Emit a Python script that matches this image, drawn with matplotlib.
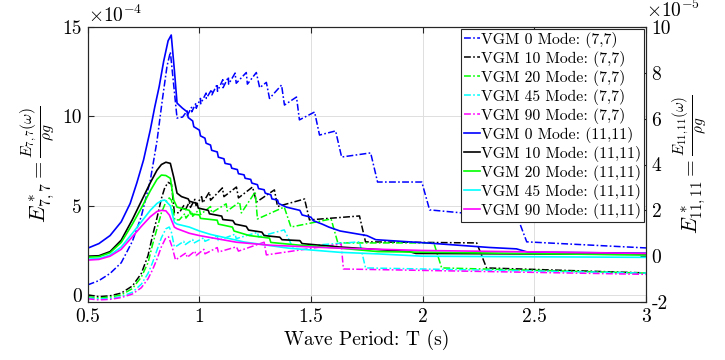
import matplotlib
matplotlib.use('Agg')
import matplotlib.pyplot as plt

plt.rcParams['font.family'] = 'serif'
plt.rcParams['font.serif'] = ['cmr10']
plt.rcParams['mathtext.fontset'] = 'cm'
plt.rcParams['axes.unicode_minus'] = False

# mode (7,7), left axis, units of 1e-4
t77_0 = [0.50, 0.55, 0.60, 0.65, 0.70, 0.74, 0.78, 0.81, 0.835, 0.855, 0.87, 0.90, 0.925, 0.945, 0.946, 0.965,
         0.966, 0.985, 0.986, 1.005, 1.006, 1.03, 1.031, 1.055, 1.056, 1.08, 1.081, 1.105, 1.106, 1.13, 1.131,
         1.16, 1.165, 1.21, 1.215, 1.255, 1.27, 1.30, 1.314, 1.368, 1.381, 1.435, 1.448, 1.516, 1.538, 1.61,
         1.637, 1.767, 1.798, 1.996, 2.031, 2.426, 2.466, 3.0]
e77_0 = [0.56, 0.8, 1.2, 1.8, 3.0, 4.4, 6.4, 8.6, 11.0, 12.8, 13.6, 9.9, 9.96, 10.3, 10.05, 10.5,
         10.25, 10.75, 10.45, 11.0, 10.7, 11.3, 11.0, 11.5, 11.2, 11.8, 11.4, 12.05, 11.6, 12.2, 11.8,
         12.42, 11.85, 12.45, 11.8, 12.45, 11.6, 11.9, 11.0, 11.75, 10.63, 11.08, 9.8, 10.24, 8.95, 9.18,
         7.72, 7.95, 6.32, 6.32, 4.76, 4.3, 2.97, 2.63]

t77_10 = [0.50, 0.55, 0.60, 0.65, 0.70, 0.74, 0.77, 0.79, 0.81, 0.83, 0.845, 0.86, 0.875, 0.888, 0.91, 0.93,
          0.935, 0.955, 0.96, 0.98, 0.985, 1.01, 1.015, 1.045, 1.05, 1.103, 1.11, 1.166, 1.175, 1.238, 1.256,
          1.336, 1.35, 1.471, 1.493, 1.717, 1.744, 2.242, 2.286, 3.0]
e77_10 = [0.0, -0.1, -0.05, 0.1, 0.5, 1.2, 2.2, 3.3, 4.3, 5.4, 6.0, 6.3, 6.2, 4.6, 4.6, 5.0,
          4.7, 5.2, 4.9, 5.35, 5.0, 5.5, 5.15, 5.76, 5.3, 5.99, 5.5, 6.04, 5.43, 6.04, 5.2,
          5.88, 4.95, 5.37, 4.2, 4.42, 2.97, 2.91, 1.51, 1.23]

t77_20 = [0.50, 0.55, 0.60, 0.65, 0.70, 0.74, 0.77, 0.79, 0.81, 0.83, 0.85, 0.865, 0.875, 0.89, 0.91, 0.935,
          0.94, 0.965, 0.97, 1.0, 1.005, 1.05, 1.055, 1.12, 1.125, 1.18, 1.188, 1.25, 1.26, 1.38, 1.41, 1.59,
          1.62, 2.05, 2.085, 3.0]
e77_20 = [-0.1, -0.17, -0.12, 0.0, 0.35, 1.0, 1.8, 2.8, 3.7, 4.6, 5.2, 5.43, 5.3, 4.2, 4.2, 4.55,
          4.3, 4.7, 4.4, 4.8, 4.5, 4.95, 4.6, 5.1, 4.7, 5.2, 4.59, 5.76, 4.25, 4.92, 3.8, 4.25,
          2.91, 2.91, 1.51, 1.22]

t77_45 = [0.50, 0.55, 0.60, 0.65, 0.70, 0.74, 0.77, 0.79, 0.81, 0.83, 0.85, 0.865, 0.875, 0.888, 0.90, 0.93,
          0.935, 0.97, 0.975, 1.02, 1.025, 1.08, 1.085, 1.16, 1.165, 1.26, 1.265, 1.38, 1.417, 1.717, 1.744,
          3.0]
e77_45 = [-0.17, -0.22, -0.2, -0.1, 0.15, 0.6, 1.2, 1.8, 2.5, 3.2, 3.7, 3.8, 3.5, 2.69, 2.75, 3.0,
          2.8, 3.1, 2.9, 3.2, 3.0, 3.3, 3.05, 3.4, 3.15, 3.5, 3.25, 3.64, 2.69, 2.97, 1.51,
          1.22]

t77_90 = [0.50, 0.55, 0.60, 0.65, 0.70, 0.74, 0.77, 0.79, 0.81, 0.83, 0.848, 0.862, 0.878, 0.893, 0.91, 0.94,
          0.945, 0.98, 0.985, 1.02, 1.025, 1.08, 1.085, 1.166, 1.175, 1.29, 1.30, 1.635, 1.645, 3.0]
e77_90 = [-0.22, -0.28, -0.25, -0.15, 0.05, 0.4, 0.9, 1.4, 2.0, 2.7, 3.15, 3.25, 2.69, 1.96, 2.1, 2.35,
          2.1, 2.45, 2.2, 2.55, 2.3, 2.65, 2.4, 2.69, 2.45, 2.95, 2.24, 2.85, 1.45, 1.15]

# mode (11,11), right axis, units of 1e-5
t11_0 = [0.50, 0.55, 0.60, 0.65, 0.69, 0.72, 0.75, 0.78, 0.80, 0.82, 0.84, 0.86, 0.874, 0.888, 0.90, 0.924,
         0.945, 0.95, 0.97, 0.975, 1.0, 1.005, 1.025, 1.03, 1.05, 1.055, 1.08, 1.085, 1.11, 1.115, 1.14,
         1.145, 1.17, 1.175, 1.2, 1.205, 1.23, 1.235, 1.26, 1.265, 1.29, 1.295, 1.32, 1.325, 1.35, 1.355,
         1.39, 1.45, 1.46, 1.5, 1.51, 1.55, 1.58, 1.63, 1.72, 1.75, 1.79, 2.03, 2.30, 2.42, 2.47, 3.0]
e11_0 = [0.35, 0.55, 0.9, 1.5, 2.3, 3.2, 4.2, 5.5, 6.5, 7.4, 8.5, 9.4, 9.65, 8.12, 6.68, 6.46,
         6.3, 6.05, 5.9, 5.65, 5.5, 5.25, 5.15, 4.93, 4.85, 4.62, 4.55, 4.32, 4.25, 4.05, 4.0,
         3.84, 3.78, 3.6, 3.55, 3.4, 3.35, 3.19, 3.12, 2.95, 2.9, 2.75, 2.68, 2.5, 2.45, 2.3,
         2.14, 2.0, 1.8, 1.7, 1.55, 1.4, 1.27, 1.1, 0.95, 0.9, 0.72, 0.57, 0.38, 0.32, 0.18, 0.13]

t11_10 = [0.50, 0.55, 0.60, 0.65, 0.70, 0.74, 0.78, 0.81, 0.83, 0.85, 0.87, 0.885, 0.90, 0.92, 0.95, 0.955,
          0.99, 0.995, 1.04, 1.045, 1.1, 1.105, 1.15, 1.16, 1.21, 1.22, 1.28, 1.29, 1.36, 1.37, 1.45, 1.46,
          1.63, 1.94, 1.97, 3.0]
e11_10 = [0.0, 0.02, 0.2, 0.7, 1.6, 2.4, 3.2, 3.75, 4.0, 4.1, 4.05, 3.45, 2.75, 2.6, 2.5, 2.4,
          2.3, 2.1, 2.0, 1.85, 1.75, 1.6, 1.55, 1.4, 1.3, 1.14, 1.05, 0.9, 0.83, 0.72, 0.68, 0.55,
          0.4, 0.2, 0.12, 0.08]

t11_20 = [0.50, 0.55, 0.60, 0.65, 0.70, 0.74, 0.78, 0.81, 0.83, 0.85, 0.87, 0.885, 0.90, 0.955, 0.96, 1.0,
          1.005, 1.08, 1.085, 1.148, 1.155, 1.224, 1.314, 1.32, 1.45, 1.63, 1.8, 3.0]
e11_20 = [-0.04, -0.02, 0.15, 0.6, 1.4, 2.1, 2.85, 3.35, 3.54, 3.52, 3.4, 2.45, 2.14, 2.0, 1.85, 1.8,
          1.65, 1.57, 1.4, 1.27, 1.1, 0.9, 0.79, 0.6, 0.48, 0.35, 0.2, 0.05]

t11_45 = [0.50, 0.55, 0.60, 0.65, 0.70, 0.74, 0.78, 0.81, 0.83, 0.845, 0.87, 0.888, 0.90, 0.955, 1.0, 1.05,
          1.166, 1.2, 1.4, 1.628, 1.8, 2.0, 3.0]
e11_45 = [-0.13, -0.1, 0.05, 0.4, 1.0, 1.5, 2.0, 2.3, 2.42, 2.45, 2.2, 1.48, 1.4, 1.27, 1.1, 0.95,
          0.7, 0.62, 0.35, 0.17, 0.1, 0.0, -0.05]

t11_90 = [0.50, 0.55, 0.60, 0.65, 0.70, 0.74, 0.78, 0.81, 0.83, 0.85, 0.866, 0.888, 0.90, 0.955, 1.0, 1.166,
          1.314, 1.628, 2.0, 3.0]
e11_90 = [-0.17, -0.14, 0.0, 0.3, 0.85, 1.3, 1.72, 1.95, 2.0, 1.98, 1.79, 1.27, 1.2, 1.0, 0.9, 0.61,
          0.48, 0.35, 0.25, 0.12]

labels_77 = ['VGM 0 Mode: (7,7)', 'VGM 10 Mode: (7,7)', 'VGM 20 Mode: (7,7)',
             'VGM 45 Mode: (7,7)', 'VGM 90 Mode: (7,7)']
labels_11 = ['VGM 0 Mode: (11,11)', 'VGM 10 Mode: (11,11)', 'VGM 20 Mode: (11,11)',
             'VGM 45 Mode: (11,11)', 'VGM 90 Mode: (11,11)']
colors = ['#0000ff', '#000000', '#00ff00', '#00ffff', '#ff00ff']

series_77 = [(t77_0, e77_0), (t77_10, e77_10), (t77_20, e77_20), (t77_45, e77_45), (t77_90, e77_90)]
series_11 = [(t11_0, e11_0), (t11_10, e11_10), (t11_20, e11_20), (t11_45, e11_45), (t11_90, e11_90)]

fig = plt.figure(figsize=(7.25, 3.6), dpi=100)
ax = fig.add_axes([0.121, 0.161, 0.770, 0.764])
ax2 = ax.twinx()

handles = []
for (t, e), c, lab in zip(series_77, colors, labels_77):
    h, = ax.plot(t, e, color=c, lw=1.1, dashes=(4.5, 1.5, 1.1, 1.5), label=lab)
    handles.append(h)
for (t, e), c, lab in zip(series_11, colors, labels_11):
    h, = ax2.plot(t, e, color=c, lw=1.2, label=lab)
    handles.append(h)

ax.set_xlim(0.5, 3)
ax.set_ylim(-0.4, 15)
ax2.set_ylim(-2, 10)

ax.set_xticks([0.5, 1, 1.5, 2, 2.5, 3])
ax.set_xticklabels(['0.5', '1', '1.5', '2', '2.5', '3'])
ax.set_yticks([0, 5, 10, 15])
ax.set_yticklabels(['0', '5', '10', '15'])
ax2.set_yticks([-2, 0, 2, 4, 6, 8, 10])
ax2.set_yticklabels(['-2', '0', '2', '4', '6', '8', '10'])

axcol = '#262626'
ax.tick_params(direction='in', top=True, right=False, labelsize=14, colors=axcol, length=4, pad=4)
ax2.tick_params(direction='in', labelsize=14, colors=axcol, length=4, pad=4)
for a in (ax, ax2):
    for s in a.spines.values():
        s.set_color(axcol)
        s.set_linewidth(0.8)
ax.tick_params(axis='both', labelcolor='k')
ax2.tick_params(axis='both', labelcolor='k')

ax.grid(True, color='#dedede', lw=0.7)
ax.set_axisbelow(True)

ax.set_xlabel('Wave Period: T (s)', fontsize=14, labelpad=3)
ax.set_ylabel(r'$E^*_{7,7} = \frac{E_{7,7}(\omega)}{\rho g}$', fontsize=16, labelpad=4)
ax2.set_ylabel(r'$E^*_{11,11} = \frac{E_{11,11}(\omega)}{\rho g}$', fontsize=15.5, labelpad=0)

ax.text(0.0, 1.005, r'$\times10^{-4}$', transform=ax.transAxes, ha='left', va='bottom', fontsize=14)
ax2.text(1.0, 1.02, r'$\times10^{-5}$', transform=ax2.transAxes, ha='left', va='bottom', fontsize=14)

leg = ax2.legend(handles=handles, loc='upper right', bbox_to_anchor=(1, 1), borderaxespad=0.1,
                 fontsize=11.3, handlelength=1.0, handletextpad=0.1, labelspacing=0.19,
                 borderpad=0.2, fancybox=False, framealpha=1, edgecolor=axcol)
leg.get_frame().set_linewidth(0.8)

fig.savefig('out.png', dpi=100)
